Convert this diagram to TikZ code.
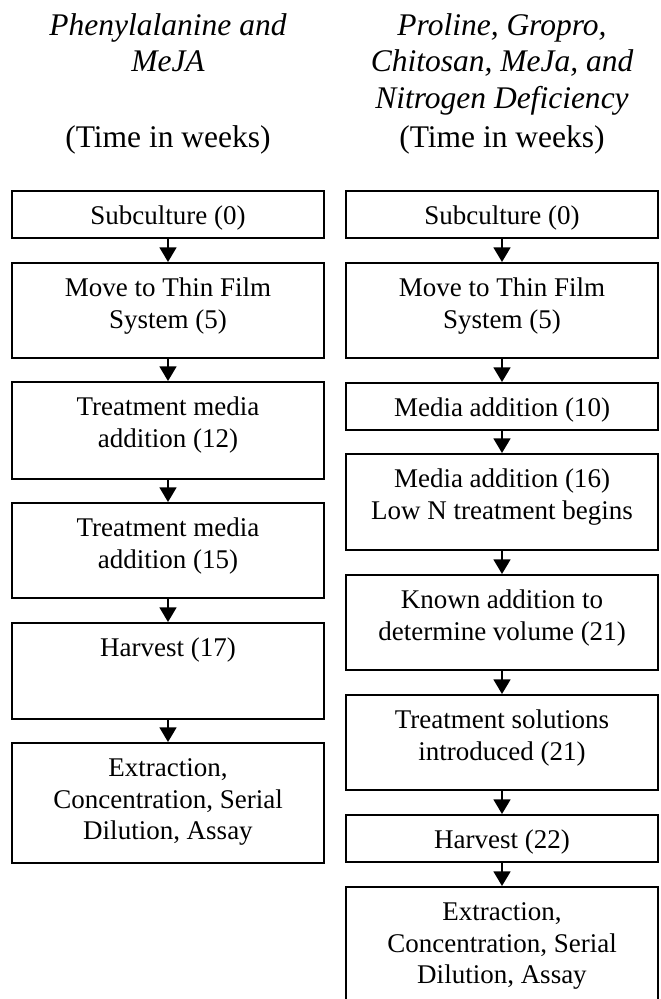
\documentclass[tikz,border=0pt]{standalone}
\usepackage{fontspec}
\setmainfont{Liberation Serif}
\usetikzlibrary{arrows.meta}
\newdimen\pxu \pxu=0.4444pt
\newcommand{\stagetext}[2]{\parbox[c][#1\pxu][t]{312\pxu}{\centering\rule{0pt}{15pt}#2}}
\tikzset{
  stagebox/.style={draw,line width=0.9pt,inner sep=0pt,anchor=north,font=\fontsize{12}{14}\selectfont},
  flow/.style={line width=0.9pt,-{Triangle[width=7.5pt,length=6.5pt]}},
  headline/.style={anchor=base,inner sep=0pt,align=center,font=\fontsize{14}{16.3}\selectfont\itshape},
  unitline/.style={anchor=base,inner sep=0pt,font=\fontsize{14}{16.3}\selectfont}
}
\begin{document}
\begin{tikzpicture}[x=0.4444pt,y=-0.4444pt]
\useasboundingbox (0,0) rectangle (660,999);
% column headings (base = last line)
\node[headline] (hl) at (168,72) {Phenylalanine and\\MeJA};
\node[headline] (hr) at (502,108.5) {Proline, Gropro,\\Chitosan, MeJa, and\\Nitrogen Deficiency};
\node[unitline] (tl) at (168,148) {(Time in weeks)};
\node[unitline] (tr) at (502,148) {(Time in weeks)};
% left column
\node[stagebox] (l1) at (168,190) {\stagetext{47}{Subculture (0)}};
\node[stagebox] (l2) at (168,262) {\stagetext{95}{Move to Thin Film\\System (5)}};
\node[stagebox] (l3) at (168,381) {\stagetext{97}{Treatment media\\addition (12)}};
\node[stagebox] (l4) at (168,502) {\stagetext{95}{Treatment media\\addition (15)}};
\node[stagebox] (l5) at (168,622) {\stagetext{96}{Harvest (17)}};
\node[stagebox] (l6) at (168,742) {\stagetext{120}{Extraction,\\Concentration, Serial\\Dilution, Assay}};
% right column
\node[stagebox] (r1) at (502,190) {\stagetext{47}{Subculture (0)}};
\node[stagebox] (r2) at (502,262) {\stagetext{95}{Move to Thin Film\\System (5)}};
\node[stagebox] (r3) at (502,382) {\stagetext{47}{Media addition (10)}};
\node[stagebox] (r4) at (502,453) {\stagetext{96}{Media addition (16)\\Low N treatment begins}};
\node[stagebox] (r5) at (502,574) {\stagetext{95}{Known addition to\\determine volume (21)}};
\node[stagebox] (r6) at (502,694) {\stagetext{95}{Treatment solutions\\introduced (21)}};
\node[stagebox] (r7) at (502,814) {\stagetext{47}{Harvest (22)}};
\node[stagebox] (r8) at (502,886) {\stagetext{125}{Extraction,\\Concentration, Serial\\Dilution, Assay}};
\foreach \i/\j in {1/2,2/3,3/4,4/5,5/6}{\draw[flow] (l\i)--(l\j);}
\foreach \i/\j in {1/2,2/3,3/4,4/5,5/6,6/7,7/8}{\draw[flow] (r\i)--(r\j);}
\end{tikzpicture}
\end{document}
